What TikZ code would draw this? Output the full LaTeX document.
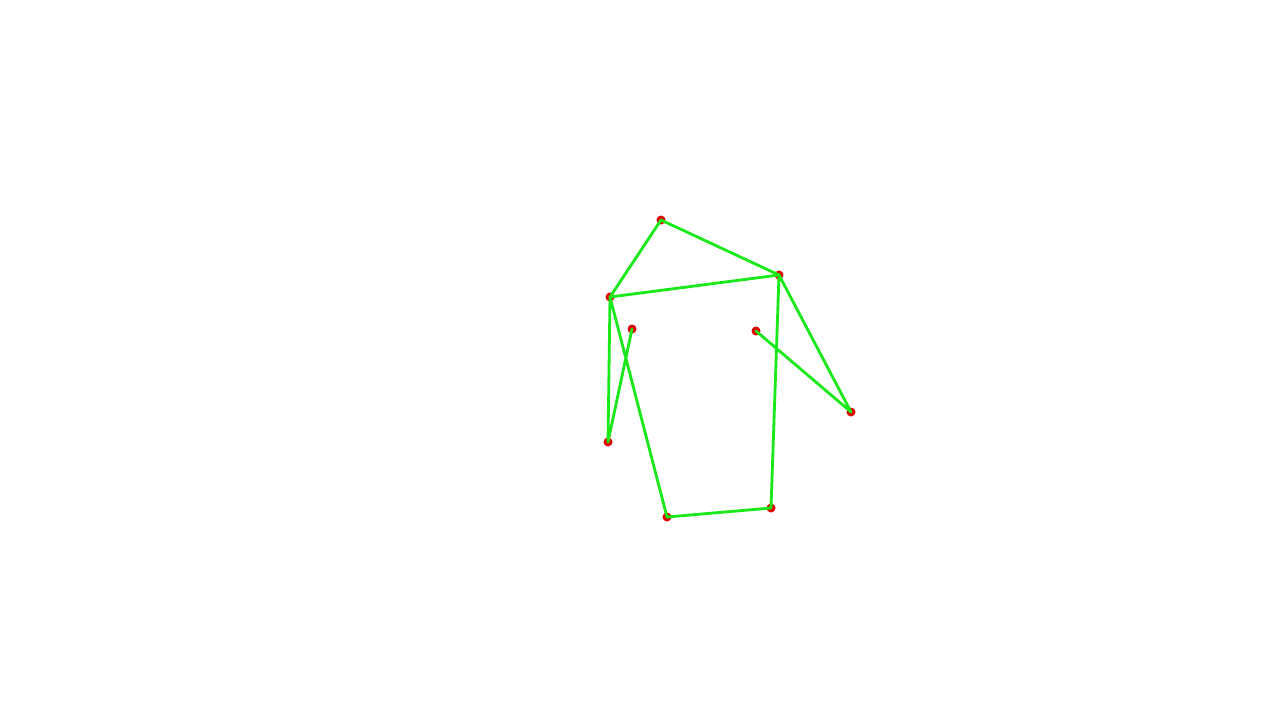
\documentclass[tikz,border=0pt]{standalone}
\definecolor{lgreen}{RGB}{25,232,25}
\definecolor{jred}{RGB}{228,0,0}
\begin{document}
\begin{tikzpicture}[x=1pt,y=-1pt,
  joint/.style={circle,fill=jred,inner sep=0pt,minimum size=9pt},
  bone/.style={draw=lgreen,line width=2.8pt,line cap=round,line join=round}]
\useasboundingbox[fill=white] (0,0) rectangle (1280,720);
\node[joint] (a) at (661,220) {};
\node[joint] (b) at (779,275) {};
\node[joint] (c) at (610,297) {};
\node[joint] (d) at (632,329) {};
\node[joint] (e) at (756,331) {};
\node[joint] (f) at (851,412) {};
\node[joint] (g) at (608,442) {};
\node[joint] (h) at (667,517) {};
\node[joint] (i) at (771,508) {};
\draw[bone] (c.center) -- (a.center) -- (b.center);
\draw[bone] (c.center) -- (b.center);
\draw[bone] (d.center) -- (g.center) -- (c.center) -- (h.center) -- (i.center) -- (b.center) -- (f.center) -- (e.center);
\end{tikzpicture}
\end{document}
